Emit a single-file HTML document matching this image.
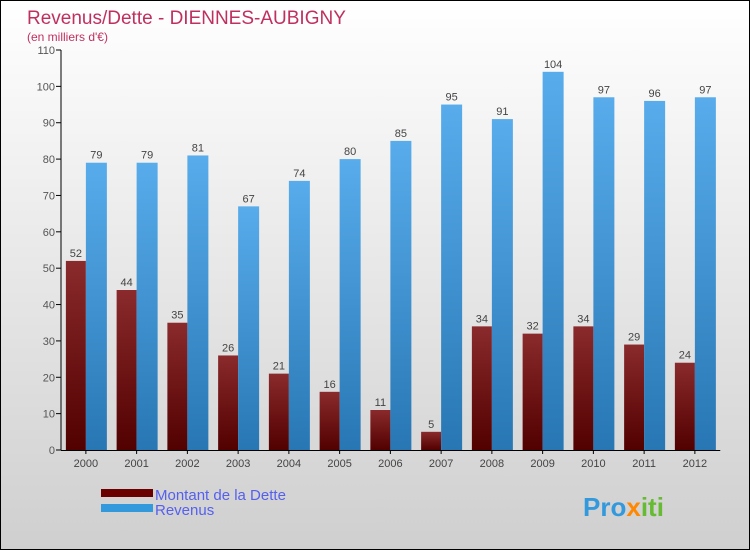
<!DOCTYPE html>
<html><head><meta charset="utf-8"><style>
body{margin:0;}
#c{width:748px;height:548px;border:1px solid #000;background:linear-gradient(#ffffff,#cfcfcf);position:relative;overflow:hidden;font-family:"Liberation Sans",sans-serif;}
</style></head><body>
<div id="c">
<svg id="s" width="748" height="548" xmlns="http://www.w3.org/2000/svg">
<defs>
<linearGradient id="gd" x1="0" y1="0" x2="0" y2="1"><stop offset="0" stop-color="#8a2a2c"/><stop offset="1" stop-color="#520000"/></linearGradient>
<linearGradient id="gr" x1="0" y1="0" x2="0" y2="1"><stop offset="0" stop-color="#58aceb"/><stop offset="1" stop-color="#2877b4"/></linearGradient>
</defs>
<text x="26" y="23" font-size="19" fill="#c0305f">Revenus/Dette - DIENNES-AUBIGNY</text>
<text x="26" y="40" font-size="12" fill="#c0305f">(en milliers d'€)</text>
<g id="g"></g>
<rect x="100" y="488" width="52" height="8" fill="#6a0000"/>
<text x="154" y="499" font-size="15" fill="#5560ee">Montant de la Dette</text>
<rect x="100" y="503" width="52" height="8" fill="#3399dd"/>
<text x="154" y="514" font-size="15" fill="#5560ee">Revenus</text>
<text x="582" y="515" font-size="26" font-weight="bold" fill="#3399dd">Pro<tspan fill="#ff8800">x</tspan><tspan fill="#66bb33">iti</tspan></text>
</svg>
</div>
<script>
const years=["2000","2001","2002","2003","2004","2005","2006","2007","2008","2009","2010","2011","2012"];
const dette=[52,44,35,26,21,16,11,5,34,32,34,29,24];
const revenus=[79,79,81,67,74,80,85,95,91,104,97,96,97];
const ticks=[0,10,20,30,40,50,60,70,80,90,100,110];
const NS="http://www.w3.org/2000/svg";
const g=document.getElementById('g');
const x0=59.5,band=50.75,yBase=449,yTop=49,max=110;
const y=v=>yBase-v*(yBase-yTop)/max;
function el(t,a,txt){const e=document.createElementNS(NS,t);for(const k in a)e.setAttribute(k,a[k]);if(txt!==undefined)e.textContent=txt;g.appendChild(e);return e;}
ticks.forEach(t=>{
 const tl=el('line',{x1:55,x2:60,y1:y(t),y2:y(t),stroke:'#000'});
 
 
 const tx=el('text',{x:54,y:y(t)+4,'font-size':11,fill:'#555','text-anchor':'end'},t);
 
 
});
years.forEach((yr,i)=>{
 const c=x0+band*(i+0.5);
 const b1=el('rect',{x:c-20,y:y(dette[i]),width:20,height:yBase-y(dette[i]),fill:'url(#gd)'});
 
 
 const b2=el('rect',{x:c,y:y(revenus[i]),width:21,height:yBase-y(revenus[i]),fill:'url(#gr)'});
 
 
 const l1=el('text',{x:c-10,y:y(dette[i])-4,'font-size':11,fill:'#444','text-anchor':'middle'},dette[i]);
 
 
 const l2=el('text',{x:c+10.5,y:y(revenus[i])-4,'font-size':11,fill:'#444','text-anchor':'middle'},revenus[i]);
 
 
 const xt=el('line',{x1:c,x2:c,y1:yBase,y2:yBase+4,stroke:'#000'});
 
 
 const xl=el('text',{x:c,y:466,'font-size':11,fill:'#444','text-anchor':'middle'},yr);
 
 
});
const ya=el('line',{x1:60,x2:60,y1:y(110),y2:yBase+0.5,stroke:'#000'});


const xa=el('line',{x1:60,x2:x0+band*13,y1:yBase+0.5,y2:yBase+0.5,stroke:'#000'});


</script>
</body></html>
